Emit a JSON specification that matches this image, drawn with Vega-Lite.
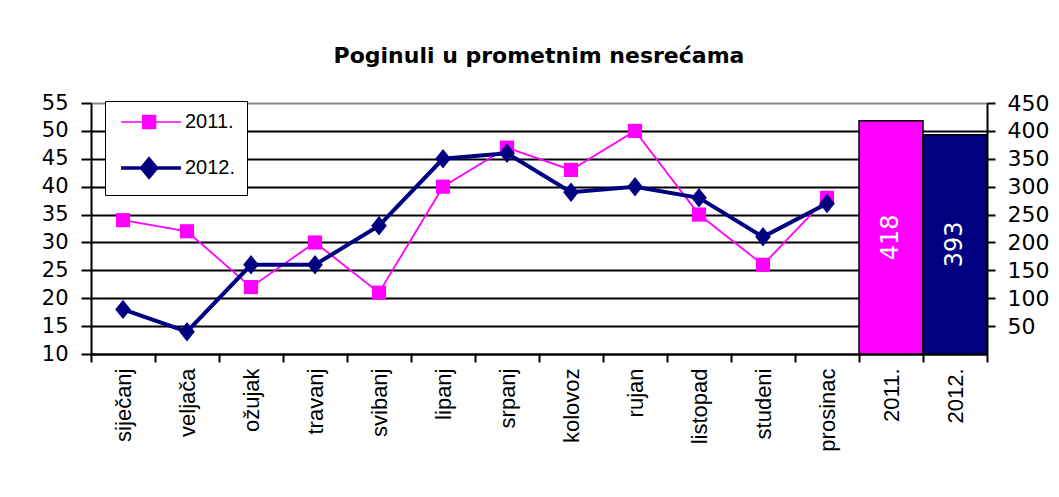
{
  "$schema": "https://vega.github.io/schema/vega-lite/v6.json",
  "width": 896,
  "height": 251,
  "autosize": "none",
  "padding": {"left": 91, "top": 103, "right": 72, "bottom": 143},
  "background": "white",
  "title": {"text": "Poginuli u prometnim nesrećama", "font": "DejaVu Sans", "fontSize": 22, "fontWeight": "bold", "color": "black", "offset": 24, "anchor": "middle"},
  "config": {"view": {"stroke": null}, "font": "DejaVu Sans"},
  "datasets": {
    "months": [
      {"cat": "siječanj", "series": "2011.", "value": 34},
      {"cat": "veljača", "series": "2011.", "value": 32},
      {"cat": "ožujak", "series": "2011.", "value": 22},
      {"cat": "travanj", "series": "2011.", "value": 30},
      {"cat": "svibanj", "series": "2011.", "value": 21},
      {"cat": "lipanj", "series": "2011.", "value": 40},
      {"cat": "srpanj", "series": "2011.", "value": 47},
      {"cat": "kolovoz", "series": "2011.", "value": 43},
      {"cat": "rujan", "series": "2011.", "value": 50},
      {"cat": "listopad", "series": "2011.", "value": 35},
      {"cat": "studeni", "series": "2011.", "value": 26},
      {"cat": "prosinac", "series": "2011.", "value": 38},
      {"cat": "siječanj", "series": "2012.", "value": 18},
      {"cat": "veljača", "series": "2012.", "value": 14},
      {"cat": "ožujak", "series": "2012.", "value": 26},
      {"cat": "travanj", "series": "2012.", "value": 26},
      {"cat": "svibanj", "series": "2012.", "value": 33},
      {"cat": "lipanj", "series": "2012.", "value": 45},
      {"cat": "srpanj", "series": "2012.", "value": 46},
      {"cat": "kolovoz", "series": "2012.", "value": 39},
      {"cat": "rujan", "series": "2012.", "value": 40},
      {"cat": "listopad", "series": "2012.", "value": 38},
      {"cat": "studeni", "series": "2012.", "value": 31},
      {"cat": "prosinac", "series": "2012.", "value": 37}
    ],
    "totals": [
      {"cat": "2011.", "series": "2011.", "total": 418},
      {"cat": "2012.", "series": "2012.", "total": 393}
    ]
  },
  "layer": [
    {
      "data": {"name": "totals"},
      "mark": {"type": "bar", "stroke": "black", "strokeWidth": 1.5},
      "encoding": {
        "x": {"field": "cat", "type": "nominal", "sort": null,
          "scale": {"type": "band", "domain": ["siječanj","veljača","ožujak","travanj","svibanj","lipanj","srpanj","kolovoz","rujan","listopad","studeni","prosinac","2011.","2012."], "paddingInner": 0, "paddingOuter": 0},
          "axis": {"title": null, "labelAngle": 270, "labelFont": "Liberation Sans", "labelFontSize": 22, "labelColor": "black", "labelPadding": 6, "tickBand": "extent", "tickSize": 8, "tickColor": "black", "tickWidth": 2, "domainColor": "black", "domainWidth": 2, "grid": false, "labelOverlap": false}},
        "y": {"field": "total", "type": "quantitative",
          "scale": {"domain": [0, 450], "nice": false, "zero": true},
          "axis": {"orient": "right", "title": null, "values": [50,100,150,200,250,300,350,400,450], "labelFontSize": 22, "labelColor": "black", "labelPadding": 12, "tickSize": 8, "tickColor": "black", "tickWidth": 2, "domainColor": "black", "domainWidth": 2, "grid": false}},
        "color": {"field": "series", "type": "nominal", "scale": {"domain": ["2011.", "2012."], "range": ["#FF00FF", "#000080"]}}
      }
    },
    {
      "data": {"name": "totals"},
      "mark": {"type": "text", "angle": 270, "fill": "white", "fontSize": 24, "align": "center", "baseline": "middle"},
      "encoding": {
        "x": {"field": "cat", "type": "nominal", "sort": null},
        "y": {"field": "total", "type": "quantitative", "scale": {"domain": [0, 900], "nice": false}, "axis": null},
        "text": {"field": "total", "type": "quantitative"}
      }
    },
    {
      "data": {"name": "months"},
      "mark": {"type": "line"},
      "encoding": {
        "x": {"field": "cat", "type": "nominal", "sort": null},
        "y": {"field": "value", "type": "quantitative",
          "scale": {"domain": [10, 55], "nice": false, "zero": false},
          "axis": {"orient": "left", "title": null, "values": [10,15,20,25,30,35,40,45,50,55], "labelFontSize": 21, "labelColor": "black", "labelPadding": 13, "tickSize": 10, "tickColor": "black", "tickWidth": 2, "domainColor": "black", "domainWidth": 2, "grid": true, "gridWidth": 2, "gridColor": {"condition": {"test": "datum.value == 55", "value": "#888888"}, "value": "black"}}},
        "color": {"field": "series", "type": "nominal",
          "legend": {"orient": "none", "legendX": 14, "legendY": -2, "title": null, "strokeColor": "black", "fillColor": "white", "padding": 11, "labelFont": "Liberation Sans", "labelFontSize": 20, "labelColor": "black", "symbolSize": 900, "rowPadding": 20, "labelOffset": 49, "labelExpr": "datum.label + '  '",
            "encode": {"symbols": {"update": {
              "shape": {"signal": "datum.value == '2011.' ? 'M-0.33,0H3.67M1.11,-0.43H1.97V0.43H1.11Z' : 'M-0.33,0H3.67M1.54,-0.6L2.04,0L1.54,0.6L1.04,0Z'"},
              "strokeWidth": {"signal": "datum.value == '2011.' ? 1.5 : 3.5"},
              "stroke": {"signal": "datum.value == '2011.' ? '#FF00FF' : '#000080'"},
              "fill": {"signal": "datum.value == '2011.' ? '#FF00FF' : '#000080'"},
              "size": {"value": 900},
              "opacity": {"value": 1}, "fillOpacity": {"value": 1}, "strokeOpacity": {"value": 1}
            }}}}},
        "strokeWidth": {"condition": {"test": "datum.series == '2011.'", "value": 1.8}, "value": 4}
      }
    },
    {
      "data": {"name": "months"},
      "mark": {"type": "point", "filled": true, "opacity": 1},
      "encoding": {
        "x": {"field": "cat", "type": "nominal", "sort": null},
        "y": {"field": "value", "type": "quantitative", "scale": {"domain": [10, 55], "nice": false, "zero": false}, "axis": null},
        "color": {"field": "series", "type": "nominal"},
        "shape": {"condition": {"test": "datum.series == '2011.'", "value": "square"}, "value": "M0,-1L0.8,0L0,1L-0.8,0Z"},
        "size": {"condition": {"test": "datum.series == '2011.'", "value": 200}, "value": 380}
      }
    }
  ],
  "resolve": {"scale": {"y": "independent"}}
}
